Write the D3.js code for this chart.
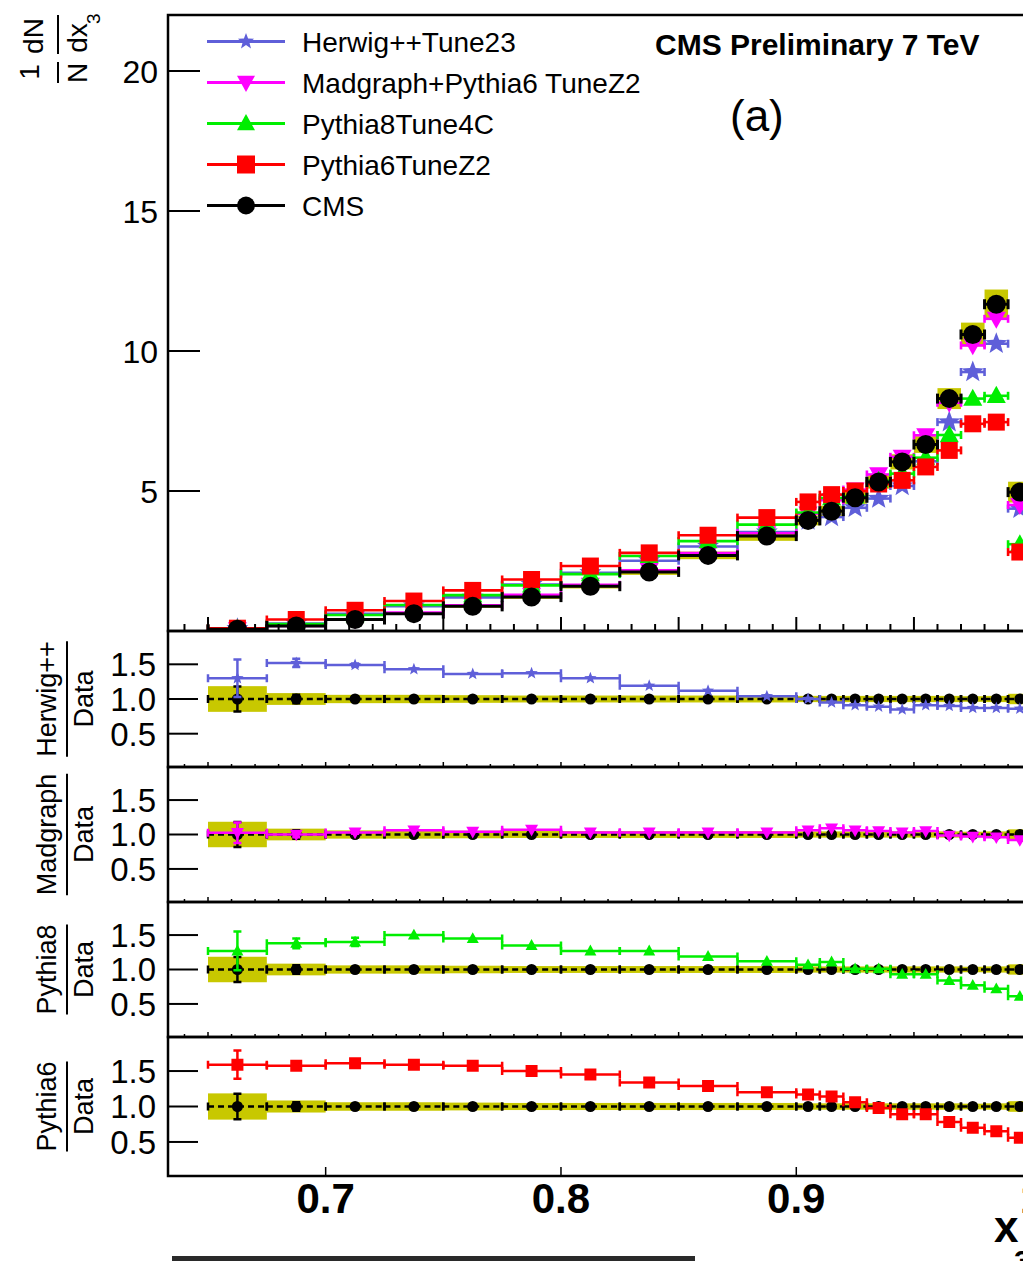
<!DOCTYPE html>
<html><head><meta charset="utf-8">
<script src="https://cdn.jsdelivr.net/npm/d3@7"></script>
<style>body{margin:0;background:#fff;overflow:hidden}svg{display:block;font-family:"Liberation Sans",Arial,Helvetica,sans-serif}</style>
</head><body><svg id="c" width="1023" height="1261"></svg>
<script>
// ---------------- data ----------------
const binEdges = [0.65,0.675,0.7,0.725,0.75,0.775,0.8,0.825,0.85,0.875,0.9,0.91,0.92,0.93,0.94,0.95,0.96,0.97,0.98,0.99,1.0];
const cmsValues     = [0.06,0.18,0.41,0.62,0.88,1.21,1.60,2.11,2.70,3.39,3.95,4.28,4.76,5.32,6.04,6.66,8.30,10.59,11.67,4.96];
const herwigValues  = [0.08,0.27,0.61,0.89,1.20,1.66,2.08,2.51,3.02,3.53,3.95,4.07,4.40,4.73,5.18,6.06,7.46,9.25,10.26,4.37];
const madgraphValues= [0.06,0.18,0.42,0.66,0.92,1.29,1.65,2.17,2.78,3.49,4.19,4.67,5.05,5.59,6.22,6.99,8.15,10.20,11.15,4.50];
const pythia8Values = [0.08,0.25,0.57,0.93,1.28,1.63,2.03,2.68,3.21,3.80,4.23,4.75,4.81,5.37,5.62,6.19,7.00,8.30,8.40,3.10];
const pythia6Values = [0.10,0.41,0.74,1.07,1.45,1.84,2.32,2.79,3.42,4.05,4.61,4.87,5.00,5.25,5.38,5.86,6.45,7.40,7.46,2.82];
const cmsSysRel     = [0.185,0.085,0.06,0.06,0.055,0.05,0.05,0.05,0.05,0.05,0.045,0.045,0.045,0.045,0.045,0.045,0.045,0.04,0.045,0.075];
const cmsStatRel    = [0.18,0.06,0.02,0.015,0.01,0.01,0.01,0.01,0.01,0.01,0.01,0.01,0.01,0.01,0.01,0.01,0.01,0.01,0.01,0.01];
const herwigRatio   = [1.30,1.52,1.49,1.43,1.36,1.37,1.30,1.19,1.12,1.04,1.00,0.95,0.91,0.89,0.85,0.91,0.90,0.87,0.87,0.86];
const madgraphRatio = [1.025,1.00,1.03,1.06,1.04,1.07,1.03,1.03,1.03,1.03,1.06,1.09,1.06,1.05,1.03,1.05,0.985,0.97,0.96,0.92];
const pythia8Ratio  = [1.27,1.38,1.40,1.50,1.45,1.35,1.27,1.27,1.19,1.12,1.07,1.11,1.01,1.01,0.93,0.93,0.84,0.77,0.72,0.61];
const pythia6Ratio  = [1.59,1.575,1.61,1.59,1.575,1.50,1.45,1.34,1.29,1.20,1.17,1.14,1.06,0.98,0.89,0.89,0.78,0.70,0.65,0.56];
const herwigRatioErr  = [0.27,0.06,0.02,0,0,0,0,0,0,0,0,0,0,0,0,0,0,0,0,0];
const madgraphRatioErr= [0.15,0.04,0.02,0,0,0,0,0,0,0,0,0,0,0,0,0,0,0,0,0];
const pythia8RatioErr = [0.28,0.07,0.06,0,0,0,0,0,0,0,0,0,0,0,0,0,0,0,0,0];
const pythia6RatioErr = [0.20,0.04,0.02,0,0,0,0,0,0,0,0,0,0,0,0,0,0,0,0,0];
const legendLabels = ["Herwig++Tune23","Madgraph+Pythia6 TuneZ2","Pythia8Tune4C","Pythia6TuneZ2","CMS"];
const ratioTitles = ["Herwig++","Madgraph","Pythia8","Pythia6"];
const mainYTicks = [5,10,15,20];
const ratioYTicks = [0.5,1.0,1.5];
const xLabelTicks = [0.7,0.8,0.9,1.0];

// ---------------- style ----------------
const C = {herwig:"#5f5fd9", madgraph:"#ff00ff", pythia8:"#00ee00", pythia6:"#ff0000", cms:"#000000", band:"#c8c800"};
const models = [
  {key:"herwig",  vals:herwigValues,  ratio:herwigRatio,  err:herwigRatioErr,  color:C.herwig,  shape:"star"},
  {key:"madgraph",vals:madgraphValues,ratio:madgraphRatio,err:madgraphRatioErr,color:C.madgraph,shape:"triDown"},
  {key:"pythia8", vals:pythia8Values, ratio:pythia8Ratio, err:pythia8RatioErr, color:C.pythia8, shape:"triUp"},
  {key:"pythia6", vals:pythia6Values, ratio:pythia6Ratio, err:pythia6RatioErr, color:C.pythia6, shape:"square"}
];

const svg = d3.select("#c");
const X0 = 168, X1 = 1031.6;
const x = d3.scaleLinear().domain([0.633, 1.0]).range([X0, X1]);
const yMain = d3.scaleLinear().domain([0, 22]).range([631, 15]);
const panelTops = [631, 767, 902, 1037];
const panelBots = [767, 902, 1037, 1176];

function shapePath(type, s) {
  const r = s / 2;
  if (type === "circle") return `M${-r},0A${r},${r} 0 1,0 ${r},0A${r},${r} 0 1,0 ${-r},0Z`;
  if (type === "square") return `M${-r},${-r}H${r}V${r}H${-r}Z`;
  if (type === "triUp") return `M0,${-r*1.05}L${r},${r*0.75}L${-r},${r*0.75}Z`;
  if (type === "triDown") return `M0,${r*1.05}L${r},${-r*0.75}L${-r},${-r*0.75}Z`;
  if (type === "star") {
    let p = "";
    for (let k = 0; k < 10; k++) {
      const rr = k % 2 === 0 ? r : r * 0.42;
      const a = -Math.PI / 2 + k * Math.PI / 5;
      p += (k === 0 ? "M" : "L") + (rr * Math.cos(a)).toFixed(2) + "," + (rr * Math.sin(a)).toFixed(2);
    }
    return p + "Z";
  }
}
const mainSize = {circle:19, square:17, triUp:19, triDown:19, star:23};
const ratioSize = {circle:11, square:12, triUp:12, triDown:13, star:13};

function drawBins(g, vals, yS, color, lw, cap, dash, errAbs) {
  vals.forEach((v, i) => {
    const xa = x(binEdges[i]), xb = x(binEdges[i+1]), xc = x((binEdges[i]+binEdges[i+1])/2), yy = yS(v);
    g.append("line").attr("x1", xa).attr("x2", xb).attr("y1", yy).attr("y2", yy)
      .attr("stroke", color).attr("stroke-width", lw).attr("stroke-dasharray", dash || null);
    [xa, xb].forEach(xx => g.append("line").attr("x1", xx).attr("x2", xx).attr("y1", yy - cap).attr("y2", yy + cap)
      .attr("stroke", color).attr("stroke-width", lw));
    if (errAbs && errAbs[i] > 0) {
      const y1 = yS(v + errAbs[i]), y2 = yS(v - errAbs[i]);
      g.append("line").attr("x1", xc).attr("x2", xc).attr("y1", y1).attr("y2", y2).attr("stroke", color).attr("stroke-width", lw);
      [y1, y2].forEach(ye => g.append("line").attr("x1", xc - 4).attr("x2", xc + 4).attr("y1", ye).attr("y2", ye).attr("stroke", color).attr("stroke-width", lw));
    }
  });
}
function drawMarkers(g, vals, yS, color, shape, size) {
  vals.forEach((v, i) => {
    g.append("path").attr("d", shapePath(shape, size))
      .attr("transform", `translate(${x((binEdges[i]+binEdges[i+1])/2)},${yS(v)})`).attr("fill", color);
  });
}
function drawBand(g, vals, rel, yS) {
  vals.forEach((v, i) => {
    const e = v * rel[i];
    g.append("rect").attr("x", x(binEdges[i])).attr("width", x(binEdges[i+1]) - x(binEdges[i]))
      .attr("y", yS(v + e)).attr("height", yS(v - e) - yS(v + e)).attr("fill", C.band);
  });
}

const defs = svg.append("defs");
function clip(id, y0, y1) {
  defs.append("clipPath").attr("id", id).append("rect").attr("x", X0).attr("y", y0).attr("width", X1 - X0).attr("height", y1 - y0);
  return svg.append("g").attr("clip-path", `url(#${id})`);
}

// ---------------- main panel ----------------
const gMain = clip("cm", 15, 631);
drawBand(gMain, cmsValues, cmsSysRel, yMain);
models.forEach(m => {
  drawBins(gMain, m.vals, yMain, m.color, 2.6, 4, null, null);
  drawMarkers(gMain, m.vals, yMain, m.color, m.shape, mainSize[m.shape]);
});
drawBins(gMain, cmsValues, yMain, C.cms, 3, 5, null, cmsValues.map((v, i) => v * cmsStatRel[i]));
drawMarkers(gMain, cmsValues, yMain, C.cms, "circle", mainSize.circle);

// frame & axes main
const axisG = svg.append("g");
axisG.append("path").attr("d", `M${X1},15H${X0}V631H${X1}`).attr("fill", "none").attr("stroke", "#000").attr("stroke-width", 2.5);
mainYTicks.forEach(t => {
  axisG.append("line").attr("x1", X0).attr("x2", X0 + 32).attr("y1", yMain(t)).attr("y2", yMain(t)).attr("stroke", "#000").attr("stroke-width", 2);
  axisG.append("text").attr("x", 158).attr("y", yMain(t)).attr("dy", "0.36em").attr("text-anchor", "end")
    .attr("font-size", 32).text(t);
});
const minorTicks = d3.range(64, 101).map(k => k / 100);
minorTicks.forEach(t => {
  const major = Math.round(t * 100) % 5 === 0;
  axisG.append("line").attr("x1", x(t)).attr("x2", x(t)).attr("y1", 631).attr("y2", 631 - (major ? 14 : 7))
    .attr("stroke", "#000").attr("stroke-width", 2);
});

// ---------------- ratio panels ----------------
models.forEach((m, p) => {
  const top = panelTops[p], bot = panelBots[p];
  const yR = d3.scaleLinear().domain([0.02, 1.98]).range([bot, top]);
  const g = clip("cr" + p, top, bot);
  drawBand(g, cmsValues.map(() => 1), cmsSysRel, yR);
  drawBins(g, cmsValues.map(() => 1), yR, C.cms, 2.5, 4, "6,4", cmsStatRel);
  drawMarkers(g, cmsValues.map(() => 1), yR, C.cms, "circle", ratioSize.circle);
  drawBins(g, m.ratio, yR, m.color, 2.5, 4, null, m.err);
  drawMarkers(g, m.ratio, yR, m.color, m.shape, ratioSize[m.shape]);

  axisG.append("path").attr("d", `M${X1},${top}H${X0}V${bot}H${X1}`).attr("fill", "none").attr("stroke", "#000").attr("stroke-width", 2.5);
  ratioYTicks.forEach(t => {
    axisG.append("line").attr("x1", X0).attr("x2", X0 + 30).attr("y1", yR(t)).attr("y2", yR(t)).attr("stroke", "#000").attr("stroke-width", 2);
    axisG.append("text").attr("x", 156).attr("y", yR(t)).attr("dy", "0.36em").attr("text-anchor", "end")
      .attr("font-size", 33).text(t.toFixed(1));
  });
  if (p < 3) {
    minorTicks.forEach(t => {
      const major = Math.round(t * 100) % 5 === 0;
      axisG.append("line").attr("x1", x(t)).attr("x2", x(t)).attr("y1", bot).attr("y2", bot - (major ? 5 : 3))
        .attr("stroke", "#000").attr("stroke-width", 1.5);
    });
  } else {
    xLabelTicks.forEach(t => {
      axisG.append("line").attr("x1", x(t)).attr("x2", x(t)).attr("y1", bot).attr("y2", bot - 9).attr("stroke", "#000").attr("stroke-width", 1.5);
      axisG.append("text").attr("x", x(t)).attr("y", 1213).attr("text-anchor", "middle").attr("font-size", 42)
        .attr("font-weight", "bold").text(t === 1 ? "1" : t.toFixed(1));
    });
  }
  // rotated title
  const c = (top + bot) / 2;
  const gt = svg.append("g").attr("transform", "rotate(-90)");
  const t1 = gt.append("text").attr("x", -c).attr("y", 56).attr("text-anchor", "middle").attr("font-size", 27).text(ratioTitles[p]);
  const t2 = gt.append("text").attr("x", -c).attr("y", 93).attr("text-anchor", "middle").attr("font-size", 27).text("Data");
  const w = Math.max(t1.node().getComputedTextLength(), t2.node().getComputedTextLength());
  gt.append("line").attr("x1", -c - w / 2).attr("x2", -c + w / 2).attr("y1", 67).attr("y2", 67).attr("stroke", "#000").attr("stroke-width", 2);
});

// x axis title
svg.append("text").attr("x", 994).attr("y", 1242).attr("font-size", 44).attr("font-weight", "bold").text("x");
svg.append("text").attr("x", 1014).attr("y", 1271).attr("font-size", 30).attr("font-weight", "bold").text("3");

// main y title (rotated fractions)
const gy = svg.append("g").attr("transform", "rotate(-90)");
gy.append("text").attr("x", -72).attr("y", 39).attr("text-anchor", "middle").attr("font-size", 28).text("1");
gy.append("text").attr("x", -73).attr("y", 87).attr("text-anchor", "middle").attr("font-size", 28).text("N");
gy.append("line").attr("x1", -83).attr("x2", -62).attr("y1", 58).attr("y2", 58).attr("stroke", "#000").attr("stroke-width", 2);
gy.append("text").attr("x", -36).attr("y", 43).attr("text-anchor", "middle").attr("font-size", 28).text("dN");
gy.append("line").attr("x1", -54).attr("x2", -15).attr("y1", 58).attr("y2", 58).attr("stroke", "#000").attr("stroke-width", 2);
gy.append("text").attr("x", -38).attr("y", 87).attr("text-anchor", "middle").attr("font-size", 28).text("dx");
gy.append("text").attr("x", -24).attr("y", 100).attr("font-size", 19).text("3");

// header texts
svg.append("text").attr("x", 655).attr("y", 55).attr("font-size", 30).attr("font-weight", "bold").text("CMS Preliminary 7 TeV");
svg.append("text").attr("x", 730).attr("y", 131).attr("font-size", 44).text("(a)");

// legend
const legShapes = ["star","triDown","triUp","square","circle"];
const legColors = [C.herwig, C.madgraph, C.pythia8, C.pythia6, C.cms];
legendLabels.forEach((lab, i) => {
  const yy = 41.5 + i * 41;
  svg.append("line").attr("x1", 207).attr("x2", 285).attr("y1", yy).attr("y2", yy).attr("stroke", legColors[i]).attr("stroke-width", 3);
  svg.append("path").attr("d", shapePath(legShapes[i], legShapes[i] === "star" ? 17 : 18)).attr("transform", `translate(246,${yy})`).attr("fill", legColors[i]);
  svg.append("text").attr("x", 302).attr("y", yy).attr("dy", "0.36em").attr("font-size", 28).text(lab);
});

// scan artifact at the bottom edge
svg.append("rect").attr("x", 172).attr("y", 1256).attr("width", 523).attr("height", 5).attr("fill", "#2a2a2a");
</script></body></html>
